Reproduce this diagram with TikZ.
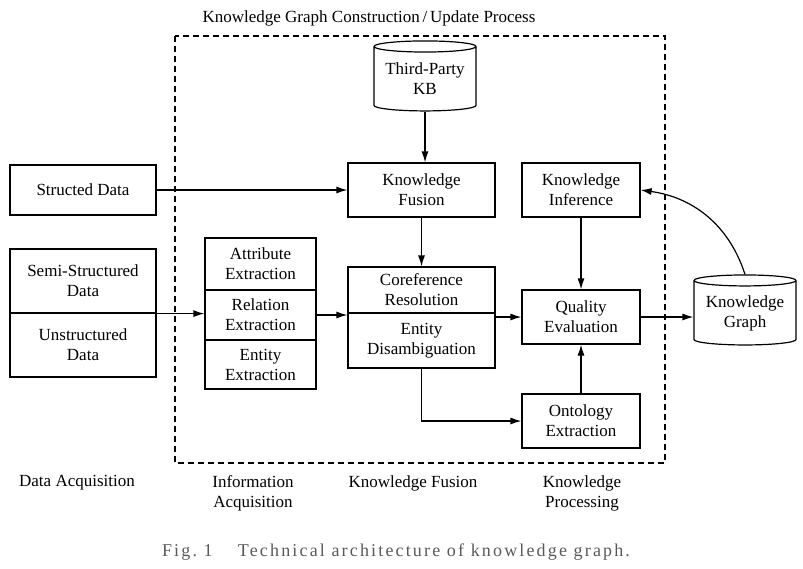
\documentclass[tikz,border=0pt]{standalone}
\usepackage{fontspec}
\setmainfont{Liberation Serif}
\usetikzlibrary{arrows.meta, calc, positioning, shapes.geometric}
\tikzset{>={Latex[length=11pt, width=7pt]}}
\tikzset{block/.style = {draw, rectangle, align=center, inner sep=0pt}}
\tikzset{store/.style = {draw, cylinder, shape border rotate=90, aspect=0.14, align=center, inner sep=0pt}}
\tikzset{stage/.style = {align=center}}

\begin{document}
\begin{tikzpicture}[x=1pt, y=-1pt, font=\fontsize{17}{20}\selectfont, line width=1.2pt]
  \useasboundingbox (0,0) rectangle (803,568);
  \tikzset{fusebox/.style = {minimum width=147pt}, procbox/.style = {minimum width=118pt, minimum height=54pt}}
  \tikzset{srcbox/.style = {minimum width=146pt}, extbox/.style = {minimum width=111pt}}
  \draw[line width=1.1pt, dash pattern=on 6pt off 4pt] (175,36) rectangle (665,463);
  \path (425,79) node[store, minimum width=102pt, minimum height=70pt] (kb) {Third-Party\\KB}
        (421.5,190) node[block, fusebox, minimum height=54pt] (fus) {Knowledge\\Fusion}
        (421.5,290) node[block, fusebox, minimum height=46pt] (coref) {Coreference\\Resolution}
        (421.5,340.5) node[block, fusebox, minimum height=55pt] (dis) {Entity\\Disambiguation}
        (581,190) node[block, procbox] (inf) {Knowledge\\Inference}
        (581,317) node[block, procbox] (qual) {Quality\\Evaluation}
        (581,421) node[block, procbox] (onto) {Ontology\\Extraction}
        (83,190) node[block, srcbox, minimum height=50pt] (sd) {Structed Data}
        (83,281) node[block, srcbox, minimum height=64pt] (semi) {Semi-Structured\\Data}
        (83,345) node[block, srcbox, minimum height=64pt] (unstr) {Unstructured\\Data}
        (260.5,264) node[block, extbox, minimum height=52pt] (attr) {Attribute\\Extraction}
        (260.5,315) node[block, extbox, minimum height=50pt] (rel) {Relation\\Extraction}
        (260.5,364.5) node[block, extbox, minimum height=49pt] (ent) {Entity\\Extraction}
        (745,313) node[store, minimum width=102pt, minimum height=70pt] (kg) {Knowledge\\Graph};

  \node (title) at (369,18) {Knowledge Graph Construction\,/\,Update Process};
  \node[stage] (daq) at (77,483) {Data Acquisition};
  \node[stage] (iaq) at (253,493) {Information\\Acquisition};
  \node[stage] (kfu) at (413,483) {Knowledge Fusion};
  \node[stage] (kpr) at (582,493) {Knowledge\\Processing};
  \node[text=black!65, font=\fontsize{18}{20}\selectfont] (cap) at (396,552)
    {\addfontfeature{LetterSpace=12}Fig.~1\hspace{1.4em}Technical architecture of knowledge graph.};

  \foreach \i/\o in
  {kb.south/kb.south|-fus.north, fus.south/coref.north, sd.east/fus.west,
   semi.south east/semi.south east-|rel.west, rel.east/rel.east-|coref.west,
   qual.west-|coref.east/qual.west, onto.north/qual.south, inf.south/qual.north,
   qual.east/qual.east-|kg.west}
  {
    \draw[->] (\i) -- (\o);
  }
  \draw[->] (dis.south) |- (onto.west);
  \draw[->] (kg.north) to[out=108, in=-8] (inf.east);
\end{tikzpicture}
\end{document}
